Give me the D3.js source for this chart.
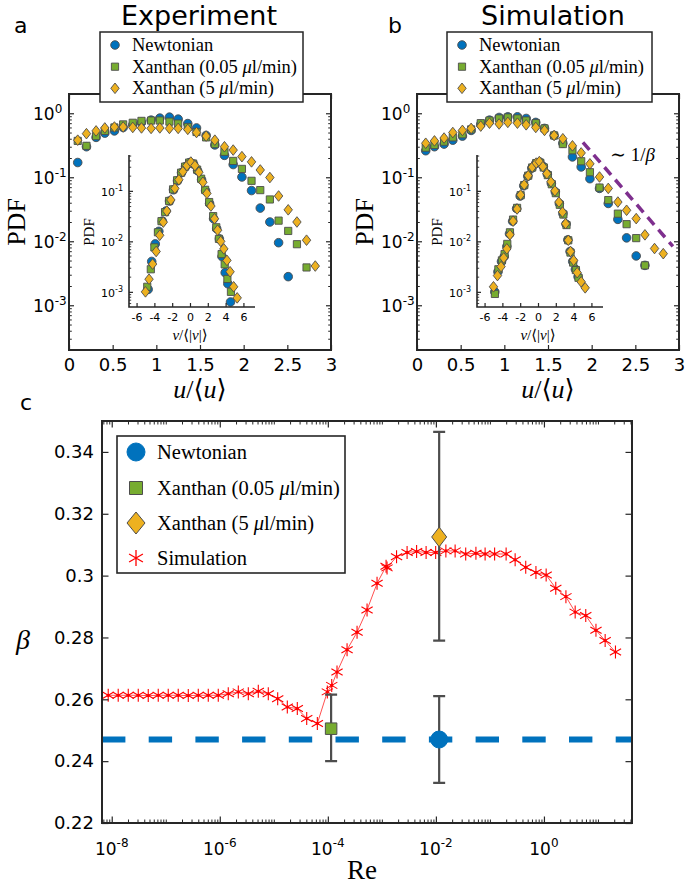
<!DOCTYPE html>
<html><head><meta charset="utf-8">
<script src="https://cdn.jsdelivr.net/npm/d3@7"></script>
<style>body{margin:0;background:#fff}svg{display:block}</style>
</head><body>
<svg id="chart" width="685" height="886"></svg>
<script>
// ---------------- DATA ----------------
const uBins = [0.10,0.20,0.31,0.41,0.52,0.62,0.73,0.83,0.94,1.04,1.15,1.25,1.36,1.46,1.57,1.67,1.78,1.88,1.98,2.09,2.19,2.30,2.40,2.51,2.61,2.72,2.82];
// panel a (experiment) PDF of u/<u>
const expNewtonian   = [0.17,0.30,0.42,0.49,0.53,0.60,0.66,0.72,0.78,0.84,0.87,0.81,0.69,0.59,0.45,0.32,0.22,0.158,0.101,0.062,0.033,0.020,0.0095,0.0028];
const expXanthan005  = [0.37,0.31,0.44,0.53,0.60,0.67,0.71,0.76,0.77,0.77,0.74,0.69,0.61,0.51,0.42,0.33,0.25,0.18,0.135,0.088,0.063,0.045,0.021,0.0145,0.0090,0.0039];
const expXanthan5    = [0.38,0.48,0.53,0.59,0.61,0.61,0.60,0.59,0.58,0.59,0.58,0.58,0.56,0.50,0.44,0.38,0.30,0.266,0.21,0.174,0.13,0.099,0.051,0.031,0.020,0.0104,0.0041];
// panel b (simulation)
const simNewtonian   = [0.26,0.30,0.33,0.38,0.44,0.54,0.67,0.78,0.86,0.88,0.88,0.83,0.72,0.58,0.45,0.34,0.208,0.145,0.095,0.067,0.039,0.022,0.0113,0.0059,0.0042];
const simXanthan005  = [0.29,0.32,0.36,0.42,0.47,0.56,0.70,0.77,0.83,0.86,0.83,0.77,0.70,0.58,0.45,0.33,0.264,0.178,0.12,0.069,0.044,0.027,0.0185,0.0112,0.0042];
const simXanthan5    = [0.34,0.37,0.41,0.50,0.54,0.58,0.63,0.70,0.68,0.72,0.70,0.66,0.60,0.54,0.45,0.40,0.31,0.24,0.162,0.101,0.067,0.041,0.0305,0.0226,0.0126,0.0077,0.0064];
const guideU = [1.90, 2.93];
const guideP = [0.352, 0.0083];
// insets: PDF of v/<|v|>
const insetExpNewtonianV  = [-4.7,-4.3,-3.9,-3.5,-3.1,-2.7,-2.3,-1.85,-1.4,-0.95,-0.5,-0.05,0.4,0.85,1.3,1.75,2.2,2.65,3.0,3.3,3.6,3.95,4.25,4.55];
const insetExpNewtonianP  = [0.00112,0.004,0.0089,0.0158,0.0251,0.0398,0.063,0.105,0.158,0.229,0.302,0.363,0.339,0.251,0.166,0.1,0.056,0.028,0.0178,0.0112,0.005,0.0024,0.00145,0.00063];
const insetExpXanthan005V = [-4.8,-4.4,-4.0,-3.6,-3.2,-2.8,-2.35,-1.9,-1.45,-1.0,-0.55,-0.1,0.35,0.8,1.25,1.7,2.15,2.6,2.95,3.25,3.55,3.9,4.2,4.6];
const insetExpXanthan005P = [0.00126,0.0028,0.0076,0.0151,0.0251,0.038,0.063,0.107,0.162,0.229,0.302,0.363,0.347,0.263,0.174,0.105,0.06,0.0316,0.019,0.0112,0.0056,0.0035,0.0018,0.001];
const insetExpXanthan5V   = [-5.0,-4.6,-4.2,-3.8,-3.4,-3.0,-2.6,-2.15,-1.7,-1.25,-0.8,-0.35,0.1,0.55,1.0,1.45,1.9,2.35,2.75,3.1,3.45,3.8,4.15,4.5,4.9,5.3];
const insetExpXanthan5P   = [0.001,0.00178,0.00355,0.0063,0.0132,0.024,0.0398,0.066,0.112,0.166,0.24,0.316,0.372,0.316,0.234,0.148,0.089,0.05,0.028,0.0166,0.01,0.0071,0.0042,0.0025,0.00126,0.00076];
const insetSimNewtonianV  = [-4.85,-4.5,-4.1,-3.8,-3.5,-3.2,-2.85,-2.4,-2.0,-1.6,-1.15,-0.7,-0.25,0.2,0.6,1.05,1.5,1.95,2.4,2.8,3.15,3.35,3.6,3.9,4.2,4.5];
const insetSimNewtonianP  = [0.001,0.0025,0.004,0.005,0.0079,0.0141,0.0251,0.0447,0.079,0.126,0.195,0.282,0.347,0.372,0.302,0.214,0.141,0.0955,0.056,0.0355,0.0219,0.0107,0.0063,0.004,0.0028,0.002];
const insetSimXanthan005V = [-4.84,-4.45,-4.05,-3.75,-3.45,-3.15,-2.8,-2.35,-1.95,-1.55,-1.1,-0.65,-0.2,0.25,0.65,1.1,1.55,2.0,2.45,2.85,3.2,3.4,3.65,3.95,4.25,4.55];
const insetSimXanthan005P = [0.00091,0.0028,0.0042,0.0056,0.0089,0.0151,0.027,0.046,0.082,0.13,0.2,0.29,0.355,0.36,0.29,0.205,0.135,0.09,0.053,0.034,0.021,0.0105,0.006,0.0038,0.0027,0.0019];
const insetSimXanthan5V   = [-5.0,-4.55,-4.15,-3.85,-3.5,-3.15,-2.8,-2.35,-1.95,-1.55,-1.1,-0.65,-0.2,0.15,0.55,1.0,1.45,1.9,2.35,2.75,3.1,3.4,3.65,4.0,4.4,4.85,5.3];
const insetSimXanthan5P   = [0.00126,0.0021,0.00316,0.0047,0.0071,0.0135,0.0251,0.0437,0.083,0.132,0.2,0.295,0.355,0.38,0.302,0.219,0.151,0.1,0.06,0.038,0.0224,0.0105,0.0063,0.0042,0.0024,0.00158,0.0012];
// panel c
const simLogRe = [-8.065,-7.880,-7.694,-7.509,-7.324,-7.139,-6.954,-6.769,-6.583,-6.398,-6.213,-6.028,-5.843,-5.657,-5.472,-5.287,-5.102,-4.928,-4.750,-4.565,-4.391,-4.194,-4.009,-3.928,-3.830,-3.644,-3.459,-3.274,-3.089,-2.922,-2.904,-2.728,-2.533,-2.357,-2.181,-2.004,-1.815,-1.644,-1.448,-1.259,-1.089,-0.913,-0.700,-0.533,-0.337,-0.148,0.041,0.219,0.407,0.578,0.774,0.963,1.133,1.324];
const simBeta  = [0.2613,0.2613,0.2613,0.2613,0.2612,0.2613,0.2613,0.2613,0.2612,0.2613,0.2613,0.2613,0.2618,0.2624,0.2618,0.2626,0.2618,0.2602,0.2575,0.2570,0.2538,0.2522,0.2624,0.2645,0.2688,0.2760,0.2817,0.2889,0.2975,0.3030,0.3025,0.3061,0.3075,0.3078,0.3075,0.3075,0.3080,0.3080,0.3070,0.3072,0.3070,0.3070,0.3070,0.3051,0.3027,0.3010,0.3002,0.2959,0.2932,0.2882,0.2871,0.2823,0.2790,0.2753];
const expLabels = ["Newtonian","Xanthan (0.05 \u03bcl/min)","Xanthan (5 \u03bcl/min)"];
const expRe     = [1.15e-2, 1.15e-4, 1.15e-2];
const expBeta   = [0.247, 0.2505, 0.3125];
const expBetaLo = [0.233, 0.240, 0.279];
const expBetaHi = [0.261, 0.2615, 0.3465];
const newtonianBetaLine = 0.247;
// ticks
const pdfXTicks = [0,0.5,1,1.5,2,2.5,3];
const pdfYTickExps = [0,-1,-2,-3];
const insetXTicks = [-6,-4,-2,0,2,4,6];
const insetYTickExps = [-1,-2,-3];
const betaTicks = [0.22,0.24,0.26,0.28,0.30,0.32,0.34];
const reTickExps = [-8,-6,-4,-2,0];

// ---------------- STYLE ----------------
const svg = d3.select('#chart');
svg.append('rect').attr('width',685).attr('height',886).attr('fill','#fff');
const SERIF = '"Liberation Serif","DejaVu Serif",serif';
const SANS = '"DejaVu Sans","Liberation Sans",sans-serif';
const AXC = '#262626', EDGE = '#4d4d4d';
const COL = {blue:'#0072BD', green:'#77AC30', yellow:'#EDB120', red:'#FF0000', purple:'#7E2F8E'};

function markerPath(type, m){
  if(type==='circle') return `M${m.r},0A${m.r},${m.r} 0 1,1 ${-m.r},0A${m.r},${m.r} 0 1,1 ${m.r},0Z`;
  if(type==='square') return `M${-m.s/2},${-m.s/2}h${m.s}v${m.s}h${-m.s}Z`;
  if(type==='diamond') return `M0,${-m.hh}L${m.hw},0L0,${m.hh}L${-m.hw},0Z`;
  if(type==='asterisk'){
    const r=m.r, a=r*Math.cos(Math.PI/6), b=r*Math.sin(Math.PI/6);
    return `M0,${-r}V${r}M${-a},${-b}L${a},${b}M${-a},${b}L${a},${-b}`;
  }
}
const smallM = {circle:{r:4.3}, square:{s:7.2}, diamond:{hw:4.2,hh:5.3}};
function drawPts(g, pts, type, color, m, x, y){
  g.append('g').selectAll('path').data(pts).join('path')
    .attr('transform',d=>`translate(${x(d[0])},${y(d[1])})`)
    .attr('d',markerPath(type,m))
    .attr('fill',color).attr('stroke',EDGE).attr('stroke-width',0.9);
}
function supLabel(g,x,y,base,exp,fs,fsSup,anchor){
  const t=g.append('text').attr('x',x).attr('y',y).attr('font-family',SANS)
    .attr('font-size',fs).attr('text-anchor',anchor).attr('fill','#000');
  t.append('tspan').text(base);
  t.append('tspan').attr('dy',-fs*0.45).attr('font-size',fsSup).text(exp);
}
function styleAxis(s, w){
  s.select('.domain').remove();
  s.selectAll('line').attr('stroke',AXC).attr('stroke-width',w||1.2);
}
function logMinor(lo,hi){
  const out=[];
  for(let k=-10;k<=3;k++) for(let m=2;m<=9;m++){const v=m*Math.pow(10,k); if(v>lo*1.001&&v<hi*0.999) out.push(v);}
  return out;
}

// ---------------- PANELS a, b ----------------
function pdfPanel(cfg){
  const g = svg.append('g');
  const left=cfg.left, right=cfg.left+262, top=94, bottom=350;
  const x = d3.scaleLinear().domain([0,3]).range([left,right]);
  const y = d3.scaleLog().domain([2e-4,2]).range([bottom,top]);
  const types=['circle','square','diamond'], cols=[COL.blue,COL.green,COL.yellow];
  cfg.series.forEach((vals,i)=>{
    drawPts(g, vals.map((p,j)=>[uBins[j],p]), types[i], cols[i], smallM[types[i]], x, y);
  });
  if(cfg.guide){
    g.append('path').datum(guideU.map((u,i)=>[u,guideP[i]]))
      .attr('d',d3.line().x(d=>x(d[0])).y(d=>y(d[1])))
      .attr('stroke',COL.purple).attr('stroke-width',3.5).attr('stroke-dasharray','10,6.5').attr('fill','none');
    const t=g.append('text').attr('x',cfg.left+193).attr('y',161).attr('font-family',SERIF).attr('font-size',19).attr('fill','#000');
    t.append('tspan').text('\u223c 1/');
    t.append('tspan').attr('font-style','italic').text('\u03b2');
  }
  // axes ticks
  g.append('g').attr('transform',`translate(0,${bottom})`)
    .call(d3.axisBottom(x).tickValues(pdfXTicks).tickSizeInner(-5).tickSizeOuter(0).tickPadding(8).tickFormat(d3.format('~g')))
    .call(s=>{styleAxis(s); s.selectAll('text').attr('font-family',SANS).attr('font-size',18).attr('fill','#000');});
  g.append('g').attr('transform',`translate(0,${top})`)
    .call(d3.axisTop(x).tickValues(pdfXTicks).tickSizeInner(-5).tickSizeOuter(0).tickFormat(''))
    .call(s=>styleAxis(s));
  const majY = pdfYTickExps.map(e=>Math.pow(10,e)), minY = logMinor(2e-4,2);
  [[d3.axisLeft,left],[d3.axisRight,right]].forEach(([fn,pos])=>{
    g.append('g').attr('transform',`translate(${pos},0)`).call(fn(y).tickValues(majY).tickSizeInner(-5).tickSizeOuter(0).tickFormat('')).call(s=>styleAxis(s));
    g.append('g').attr('transform',`translate(${pos},0)`).call(fn(y).tickValues(minY).tickSizeInner(-2.8).tickSizeOuter(0).tickFormat('')).call(s=>styleAxis(s,1));
  });
  pdfYTickExps.forEach(e=>supLabel(g,left-36,y(Math.pow(10,e))+7,'10',String(e),17,12,'start'));
  g.append('rect').attr('x',left).attr('y',top).attr('width',262).attr('height',bottom-top)
    .attr('fill','none').attr('stroke',AXC).attr('stroke-width',2);
  // axis labels
  g.append('text').attr('transform',`translate(${left-44},222) rotate(-90)`).attr('text-anchor','middle')
    .attr('font-family',SERIF).attr('font-size',26).attr('fill','#000').text('PDF');
  const xl=g.append('text').attr('x',left+131).attr('y',398).attr('text-anchor','middle')
    .attr('font-family',SERIF).attr('font-size',26).attr('fill','#000');
  xl.append('tspan').attr('font-style','italic').text('u');
  xl.append('tspan').text('/\u27e8');
  xl.append('tspan').attr('font-style','italic').text('u');
  xl.append('tspan').text('\u27e9');
  // inset
  const il=cfg.insetLeft, ir=il+126, it=155, ib=307;
  const xi = d3.scaleLinear().domain([-6.85,7.3]).range([il,ir]);
  const yi = d3.scaleLog().domain([Math.pow(10,-3.3),Math.pow(10,-0.29)]).range([ib,it]);
  cfg.inset.forEach((sr,i)=>{
    drawPts(g, sr[0].map((v,j)=>[v,sr[1][j]]), types[i], cols[i], smallM[types[i]], xi, yi);
  });
  g.append('g').attr('transform',`translate(0,${ib})`)
    .call(d3.axisBottom(xi).tickValues(insetXTicks).tickSizeInner(-4).tickSizeOuter(0).tickPadding(6).tickFormat(d=>String(d)))
    .call(s=>{styleAxis(s); s.selectAll('text').attr('font-family',SANS).attr('font-size',11).attr('fill','#000');});
  g.append('g').attr('transform',`translate(${il},0)`)
    .call(d3.axisLeft(yi).tickValues(insetYTickExps.map(e=>Math.pow(10,e))).tickSizeInner(-4).tickSizeOuter(0).tickFormat(''))
    .call(s=>styleAxis(s));
  g.append('g').attr('transform',`translate(${il},0)`)
    .call(d3.axisLeft(yi).tickValues(logMinor(Math.pow(10,-3.3),Math.pow(10,-0.29))).tickSizeInner(-2.2).tickSizeOuter(0).tickFormat(''))
    .call(s=>styleAxis(s,0.9));
  g.append('path').attr('d',`M${il},${it}V${ib}H${ir}`).attr('fill','none').attr('stroke',AXC).attr('stroke-width',1.6);
  insetYTickExps.forEach(e=>supLabel(g,il-28,yi(Math.pow(10,e))+5,'10',String(e),11,8,'start'));
  g.append('text').attr('transform',`translate(${il-35},232) rotate(-90)`).attr('text-anchor','middle')
    .attr('font-family',SERIF).attr('font-size',15).attr('fill','#000').text('PDF');
  const il2=g.append('text').attr('x',il+61).attr('y',340).attr('text-anchor','middle')
    .attr('font-family',SERIF).attr('font-size',15).attr('fill','#000');
  il2.append('tspan').attr('font-style','italic').text('v');
  il2.append('tspan').text('/\u27e8|');
  il2.append('tspan').attr('font-style','italic').text('v');
  il2.append('tspan').text('|\u27e9');
  // legend
  const L=cfg.legend;
  g.append('rect').attr('x',L.x).attr('y',32).attr('width',L.w).attr('height',70)
    .attr('fill','#fff').attr('stroke',AXC).attr('stroke-width',1.5);
  [45,66.7,88.3].forEach((ry,i)=>{
    g.append('path').attr('transform',`translate(${L.x+15},${ry})`).attr('d',markerPath(types[i],smallM[types[i]]))
      .attr('fill',cols[i]).attr('stroke',EDGE).attr('stroke-width',0.9);
    const t=g.append('text').attr('x',L.x+32).attr('y',ry+6).attr('font-family',SERIF).attr('font-size',18.5).attr('fill','#000');
    const parts=expLabels[i].split('\u03bc');
    t.append('tspan').text(parts[0]);
    if(parts.length>1){ t.append('tspan').attr('font-style','italic').text('\u03bc'); t.append('tspan').text(parts[1]); }
  });
  // title & letter
  g.append('text').attr('x',cfg.titleX).attr('y',25).attr('text-anchor','middle').attr('font-family',SANS)
    .attr('font-size',27).attr('fill','#000').text(cfg.title);
  g.append('text').attr('x',cfg.letterX).attr('y',33).attr('font-family',SANS)
    .attr('font-size',22).attr('fill','#000').text(cfg.letter);
}

pdfPanel({left:69, insetLeft:129, title:'Experiment', titleX:199, letter:'a', letterX:14,
  series:[expNewtonian,expXanthan005,expXanthan5],
  inset:[[insetExpNewtonianV,insetExpNewtonianP],[insetExpXanthan005V,insetExpXanthan005P],[insetExpXanthan5V,insetExpXanthan5P]],
  legend:{x:100,w:203}, guide:false});
pdfPanel({left:417, insetLeft:477, title:'Simulation', titleX:553, letter:'b', letterX:388,
  series:[simNewtonian,simXanthan005,simXanthan5],
  inset:[[insetSimNewtonianV,insetSimNewtonianP],[insetSimXanthan005V,insetSimXanthan005P],[insetSimXanthan5V,insetSimXanthan5P]],
  legend:{x:447,w:205}, guide:true});

// ---------------- PANEL c ----------------
(function(){
  const g = svg.append('g');
  const left=102, right=632, top=421, bottom=823;
  const x = d3.scaleLog().domain([Math.pow(10,-8.18),Math.pow(10,1.63)]).range([left,right]);
  const y = d3.scaleLinear().domain([0.22,0.35]).range([bottom,top]);
  // Newtonian reference line
  g.append('path').datum([x.domain()[0],x.domain()[1]])
    .attr('d',d=>`M${x(d[0])},${y(newtonianBetaLine)}H${x(d[1])}`)
    .attr('stroke',COL.blue).attr('stroke-width',6).attr('stroke-dasharray','23.4,23.3').attr('fill','none');
  // simulation
  const sim = simLogRe.map((e,i)=>[Math.pow(10,e),simBeta[i]]);
  g.append('path').datum(sim).attr('d',d3.line().x(d=>x(d[0])).y(d=>y(d[1])))
    .attr('fill','none').attr('stroke','#ff5050').attr('stroke-width',1);
  g.append('g').selectAll('path').data(sim).join('path')
    .attr('transform',d=>`translate(${x(d[0])},${y(d[1])})`)
    .attr('d',markerPath('asterisk',{r:6.5})).attr('stroke',COL.red).attr('stroke-width',1.1).attr('fill','none');
  g.append('g').selectAll('circle').data(sim).join('circle')
    .attr('cx',d=>x(d[0])).attr('cy',d=>y(d[1])).attr('r',1.6).attr('fill',COL.red);
  // error bars
  const eb = g.append('g').attr('stroke','#4d4d4d').attr('stroke-width',2.2);
  expRe.forEach((re,i)=>{
    const cx=x(re);
    eb.append('path').attr('d',`M${cx},${y(expBetaLo[i])}V${y(expBetaHi[i])}M${cx-6},${y(expBetaLo[i])}H${cx+6}M${cx-6},${y(expBetaHi[i])}H${cx+6}`);
  });
  const bigM = {circle:{r:8.5}, square:{s:11.5}, diamond:{hw:7.5,hh:9.8}};
  const types=['circle','square','diamond'], cols=[COL.blue,COL.green,COL.yellow];
  expRe.forEach((re,i)=>{
    g.append('path').attr('transform',`translate(${x(re)},${y(expBeta[i])})`).attr('d',markerPath(types[i],bigM[types[i]]))
      .attr('fill',cols[i]).attr('stroke',i===0?cols[0]:EDGE).attr('stroke-width',1);
  });
  // ticks
  const majX = reTickExps.map(e=>Math.pow(10,e));
  const minX = logMinor(x.domain()[0],x.domain()[1]).concat([1e-7,1e-5,1e-3,1e-1,1e1]);
  [[d3.axisBottom,bottom],[d3.axisTop,top]].forEach(([fn,pos])=>{
    g.append('g').attr('transform',`translate(0,${pos})`).call(fn(x).tickValues(majX).tickSizeInner(-6.5).tickSizeOuter(0).tickFormat('')).call(s=>styleAxis(s));
    g.append('g').attr('transform',`translate(0,${pos})`).call(fn(x).tickValues(minX).tickSizeInner(-3.5).tickSizeOuter(0).tickFormat('')).call(s=>styleAxis(s,1));
  });
  g.append('g').attr('transform',`translate(${left},0)`)
    .call(d3.axisLeft(y).tickValues(betaTicks).tickSizeInner(-6.5).tickSizeOuter(0).tickPadding(8).tickFormat(d3.format('~g')))
    .call(s=>{styleAxis(s); s.selectAll('text').attr('font-family',SANS).attr('font-size',18).attr('fill','#000');});
  g.append('g').attr('transform',`translate(${right},0)`)
    .call(d3.axisRight(y).tickValues(betaTicks).tickSizeInner(-6.5).tickSizeOuter(0).tickFormat(''))
    .call(s=>styleAxis(s));
  reTickExps.forEach(e=>supLabel(g,x(Math.pow(10,e)),855,'10',String(e),17,12,'middle'));
  g.append('rect').attr('x',left).attr('y',top).attr('width',right-left).attr('height',bottom-top)
    .attr('fill','none').attr('stroke',AXC).attr('stroke-width',2);
  // legend
  const lg = g.append('g');
  lg.append('rect').attr('x',117).attr('y',436).attr('width',228).attr('height',137)
    .attr('fill','#fff').attr('stroke',AXC).attr('stroke-width',1.6);
  const legM = {circle:{r:9}, square:{s:13}, diamond:{hw:9,hh:11}};
  const rows=[452,488,523,558];
  rows.forEach((ry,i)=>{
    if(i<3){
      lg.append('path').attr('transform',`translate(136,${ry})`).attr('d',markerPath(types[i],legM[types[i]]))
        .attr('fill',cols[i]).attr('stroke',i===0?cols[0]:EDGE).attr('stroke-width',1);
    } else {
      lg.append('path').attr('transform',`translate(136,${ry})`).attr('d',markerPath('asterisk',{r:8}))
        .attr('stroke',COL.red).attr('stroke-width',1.3).attr('fill','none');
    }
    const t=lg.append('text').attr('x',157).attr('y',ry+7).attr('font-family',SERIF).attr('font-size',20.5).attr('fill','#000');
    const label = i<3 ? expLabels[i] : 'Simulation';
    const parts=label.split('\u03bc');
    t.append('tspan').text(parts[0]);
    if(parts.length>1){ t.append('tspan').attr('font-style','italic').text('\u03bc'); t.append('tspan').text(parts[1]); }
  });
  // axis labels
  g.append('text').attr('x',23).attr('y',649).attr('text-anchor','middle')
    .attr('font-family',SERIF).attr('font-style','italic').attr('font-size',28).attr('fill','#000').text('\u03b2');
  g.append('text').attr('x',362).attr('y',879).attr('text-anchor','middle')
    .attr('font-family',SERIF).attr('font-size',27).attr('fill','#000').text('Re');
  g.append('text').attr('x',20).attr('y',410).attr('font-family',SANS).attr('font-size',22).attr('fill','#000').text('c');
})();
</script>
</body></html>
